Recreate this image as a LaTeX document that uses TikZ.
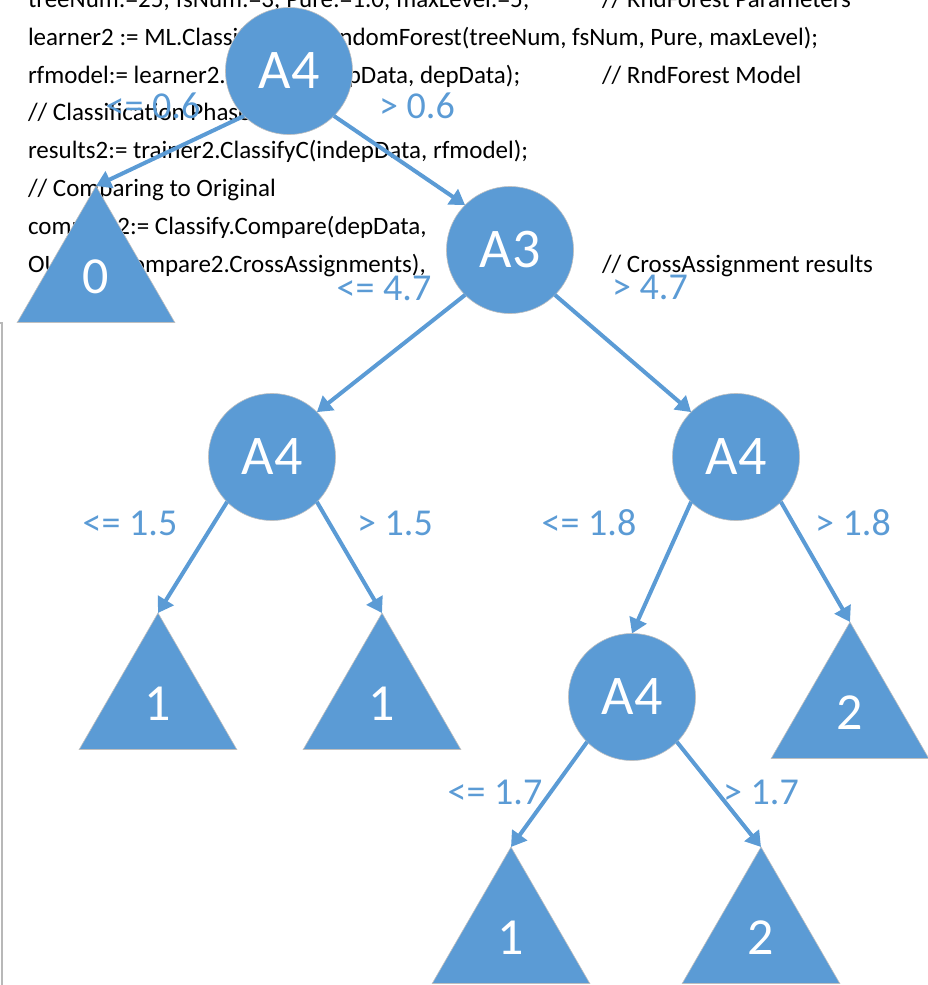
\documentclass[tikz,border=0pt]{standalone}
\usepackage{fontspec}
\setmainfont{Carlito}
\usetikzlibrary{shapes.geometric,arrows.meta}
\definecolor{nodeblue}{HTML}{5B9BD5}
\definecolor{rimgray}{HTML}{BFBFBF}
\begin{document}
\begin{tikzpicture}[x=1pt,y=-1pt,
  code/.style={anchor=base west,inner sep=0,outer sep=0,font=\fontsize{25}{25}\selectfont,text=black},
  split/.style={circle,fill=nodeblue,draw=rimgray,line width=0.6pt,minimum size=127pt,inner sep=0,outer sep=0,
    text=white,font=\fontsize{56}{56}\selectfont},
  leaf/.style={regular polygon,regular polygon sides=3,fill=nodeblue,draw=rimgray,line width=0.6pt,
    minimum size=182pt,inner sep=0,outer sep=0,text=white,font=\fontsize{52}{52}\selectfont},
  branch/.style={draw=nodeblue,line width=4pt,-{Triangle[length=15pt,width=18pt]}},
  cond/.style={text=nodeblue,inner sep=0,font=\fontsize{38}{38}\selectfont}]
\useasboundingbox (0,0) rectangle (928,985);

% page edge of the underlying document
\draw[black!28,line width=2pt] (0,323) -- (2,323) -- (2,985);

% ECL listing in the background
\node[code] (c1) at (28,7.5)   {treeNum:=25; fsNum:=3; Pure:=1.0; maxLevel:=5;};
\node[code] (k1) at (602,7.5)  {// RndForest Parameters};
\node[code] (c2) at (28,45.3)  {learner2 := ML.ClassificationRandomForest(treeNum, fsNum, Pure, maxLevel);};
\node[code] (c3) at (28,83.1)  {rfmodel:= learner2.LearnC(indepData, depData);};
\node[code] (k3) at (602,83.1) {// RndForest Model};
\node[code] (c4) at (28,120.9) {// Classification Phase};
\node[code] (c5) at (28,158.7) {results2:= trainer2.ClassifyC(indepData, rfmodel);};
\node[code] (c6) at (28,196.5) {// Comparing to Original};
\node[code] (c7) at (28,234.3) {compare2:= Classify.Compare(depData,};
\node[code] (c8) at (28,272.1) {OUTPUT(compare2.CrossAssignments),};
\node[code] (k8) at (602,272.1){// CrossAssignment results};

% decision tree
\node[split] (r)   at (289,71)  {A4};
\node[split] (a3)  at (510,250) {A3};
\node[split] (l)   at (272,457) {A4};
\node[split] (rr)  at (736,457) {A4};
\node[split] (m)   at (632,697) {A4};

\node[leaf] (t0)  at (96,277)  {0};
\node[leaf] (t1a) at (158,704) {1};
\node[leaf] (t1b) at (382,704) {1};
\node[leaf] (t2r) at (850,713) {2};
\node[leaf] (t1c) at (511,938) {1};
\node[leaf] (t2c) at (761,938) {2};

\draw[branch] (r.225)  -- (t0.corner 1);
\draw[branch] (r.315)  -- (a3.135);
\draw[branch] (a3.225) -- (l.45);
\draw[branch] (a3.315) -- (rr.135);
\draw[branch] (l.225)  -- (t1a.corner 1);
\draw[branch] (l.315)  -- (t1b.corner 1);
\draw[branch] (rr.225) -- (m.north);
\draw[branch] (rr.315) -- (t2r.corner 1);
\draw[branch] (m.225)  -- (t1c.corner 1);
\draw[branch] (m.315)  -- (t2c.corner 1);

% split conditions
\node[cond] (e1)  at (153,106) {<= 0.6};
\node[cond] (e2)  at (417,106) {> 0.6};
\node[cond] (e3)  at (384,288) {<= 4.7};
\node[cond] (e4)  at (650,287) {> 4.7};
\node[cond] (e5)  at (130,523) {<= 1.5};
\node[cond] (e6)  at (395,523) {> 1.5};
\node[cond] (e7)  at (589,523) {<= 1.8};
\node[cond] (e8)  at (853,523) {> 1.8};
\node[cond] (e9)  at (495,792) {<= 1.7};
\node[cond] (e10) at (761,792) {> 1.7};
\end{tikzpicture}
\end{document}
